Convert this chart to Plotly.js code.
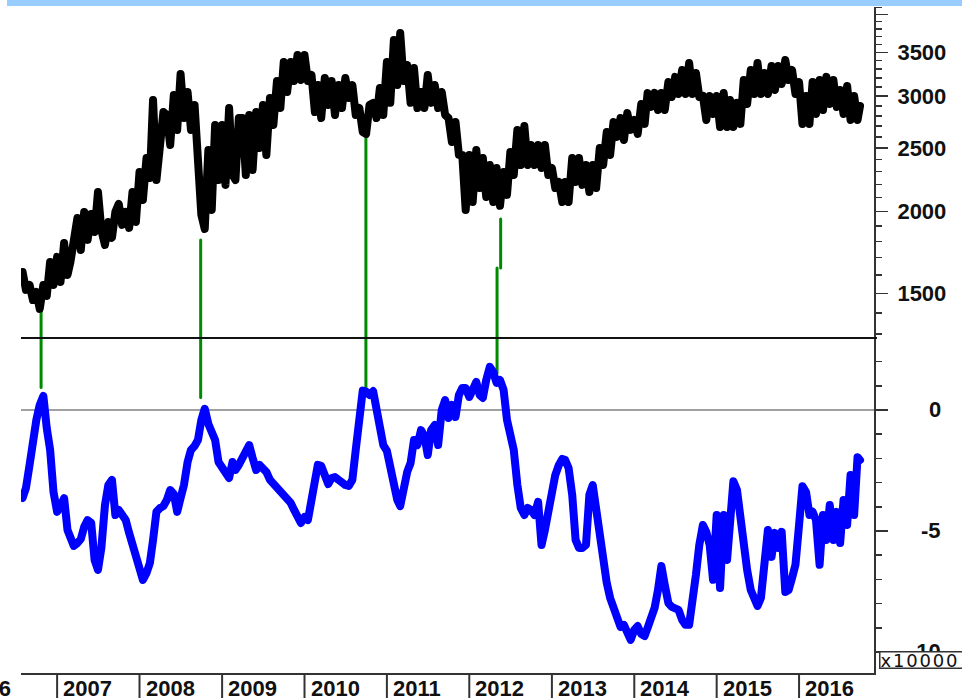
<!DOCTYPE html>
<html><head><meta charset="utf-8">
<script src="https://cdn.plot.ly/plotly-3.0.1.min.js"></script>
<style>
html,body{margin:0;padding:0;background:#fff;}
#chart{width:962px;height:698px;}
#chart .js-line{stroke-linejoin:round;stroke-linecap:round;}
</style>
</head><body><div id="chart"></div>
<script>
// ---- data (semi-monthly samples) ----
const black2006 = [1617,1518,1545,1465,1507,1420,1545,1486,1675,1545];
const black2007 = [1705,1561,1791,1600,1675,1810,1955,1747,1997,1810,1983,1861,2142,1874,1778,1928,1823,1997,2054,1908,1997,1888,2142,1928];
const black2008 = [2298,2083,2414,2250,2960,2234,2483,2837,2808,2527,3012,2664,3244,2778,3044,2664,2908,2440,1976,1881,2483,2011,2711,2234];
const black2009 = [2711,2196,2877,2274,2234,2778,2778,2274,2808,2314,2837,2500,2908,2440,2981,2711,3164,2877,3383,3044,3383,3164,3467,3175];
const black2010 = [3467,3164,3232,2837,3120,2778,3198,2908,3164,2808,3120,2877,3198,2981,3120,2808,2877,2645,2627,2908,2930,2778,3088,2808];
const black2011 = [3383,2930,3655,3120,3745,3164,3347,2930,3312,2877,3044,2877,3232,2930,3120,2877,3044,2808,2778,2554,2740,2440,2440,2011];
const black2012 = [2440,2068,2483,2172,2414,2105,2355,2068,2330,2040,2298,2120,2466,2274,2664,2355,2701,2355,2527,2355,2527,2330,2527,2274];
const black2013 = [2330,2172,2219,2068,2219,2068,2414,2219,2414,2196,2355,2142,2355,2172,2500,2355,2645,2440,2740,2599,2778,2572,2827,2664];
const black2014 = [2759,2627,2919,2721,3034,2888,3034,2857,3034,2857,3153,2991,3210,3023,3289,3023,3370,3023,3255,2991,3002,2759,3002,2818];
const black2015 = [3002,2692,3034,2692,2960,2692,2930,2721,3175,2919,3289,3023,3370,3023,3255,3023,3335,3066,3335,3131,3407,3175,3289,3023];
const black2016 = [3153,2721,3002,2721,3153,2818,3175,2857,3210,2919,3175,2888,3066,2818,3109,2759,3002,2759,2898];

const blue2006 = [-3.64,-3.22,-2.27,-1.12,-0.41,0.21,0.58,-0.74,-1.65,-3.39];
const blue2007 = [-4.21,-3.97,-3.64,-4.96,-5.37,-5.62,-5.50,-5.33,-4.83,-4.55,-4.67,-6.20,-6.61,-5.70,-3.93,-3.10,-2.89,-4.34,-4.13,-4.34,-4.55,-5.08,-5.58,-6.20];
const blue2008 = [-6.61,-7.02,-6.74,-6.32,-5.37,-4.21,-4.05,-3.97,-3.72,-3.31,-3.47,-4.21,-3.64,-3.10,-2.15,-1.65,-1.49,-1.24,-0.41,0.05,-0.58,-0.91,-1.24,-2.15];
const blue2009 = [-2.36,-2.56,-2.81,-2.15,-2.48,-2.27,-1.98,-1.57,-1.45,-1.98,-2.48,-2.27,-2.40,-2.56,-2.89,-3.06,-3.18,-3.39,-3.51,-3.64,-3.84,-4.13,-4.34,-4.67];
const blue2010 = [-4.42,-4.55,-3.72,-2.64,-2.27,-2.31,-2.77,-3.06,-2.81,-2.77,-2.89,-3.02,-3.10,-3.14,-2.89,-1.65,0.00,0.80,0.76,0.62,0.78,0.00,-0.91,-1.45];
const blue2011 = [-1.69,-2.40,-3.14,-3.72,-3.97,-3.22,-2.56,-2.19,-1.24,-1.45,-0.83,-1.07,-1.86,-0.83,-0.62,-1.45,0.00,0.41,-0.33,0.21,-0.29,0.62,0.91,0.91];
const blue2012 = [0.54,0.83,1.16,0.62,0.50,1.24,1.78,1.57,1.12,1.24,0.83,-0.41,-1.03,-1.65,-3.10,-4.05,-4.34,-4.05,-4.13,-4.34,-3.80,-5.58,-4.96,-4.13];
const blue2013 = [-3.31,-2.69,-2.27,-2.02,-2.07,-2.40,-3.51,-5.37,-5.70,-5.70,-5.58,-3.51,-3.10,-4.13,-5.58,-6.61,-7.15,-7.77,-8.18,-8.59,-8.97,-8.88,-9.17,-9.50];
const blue2014 = [-9.09,-8.93,-9.26,-9.34,-9.01,-8.59,-8.18,-7.44,-6.45,-7.23,-7.98,-8.14,-8.18,-8.26,-8.68,-8.88,-8.88,-8.06,-6.82,-5.58,-4.75,-5.04,-5.58,-7.02];
const blue2015 = [-4.34,-7.36,-4.34,-6.20,-4.34,-2.95,-3.31,-4.55,-5.58,-6.61,-7.44,-7.85,-8.10,-7.77,-6.20,-4.96,-6.07,-5.08,-5.70,-5.04,-7.52,-7.44,-6.94,-6.40];
const blue2016 = [-4.75,-3.15,-3.39,-4.34,-4.21,-4.55,-6.40,-4.34,-5.37,-3.93,-5.37,-4.21,-5.50,-3.72,-4.75,-2.69,-4.34,-1.95,-2.07];

const years = ['2006','2007','2008','2009','2010','2011','2012','2013','2014','2015','2016'];
const upperTicks = [1500, 2000, 2500, 3000, 3500, 4000];
const upperTickText = ['1500','2000','2500','3000','3500',''];
const upperMinor = [1300,1400,1600,1700,1800,1900,2100,2200,2300,2400,2600,2700,2800,2900,3100,3200,3300,3400,3600,3700,3800,3900,4100];
const lowerTicks = [-10, -5, 0];
const lowerTickText = ['-10', '-5', '0'];
const lowerMinor = [-9,-8,-7,-6,-4,-3,-2,-1,1,2];
const scaleNote = 'x10000';

// green marker lines: black trough -> blue peak
const greenUpperDates = ['2006-10-22','2008-09-28','2010-09-30','2012-05-19'];
const greenUpperValues = [1450, 1810, 2590, 1948];
const greenJogValues = [null, null, null, 1640];
const greenLowerDates = ['2006-10-22','2008-09-28','2010-09-30','2012-05-03'];
const greenLowerValues = [0.93, 0.52, 0.87, 1.53];

// semi-monthly dates (1st and 16th) Aug 2006 .. Sep 2016, last reading 27 Sep 2016
const dates = [];
for (let y = 2006; y <= 2016; y++) {
  for (let m = 1; m <= 12; m++) {
    if (y === 2006 && m < 8) continue;
    if (y === 2016 && m > 9) continue;
    const mm = String(m).padStart(2, '0');
    dates.push(y + '-' + mm + '-01', y + '-' + mm + '-16');
  }
}
dates.push('2016-09-27');

const blackValues = [].concat(black2006, black2007, black2008, black2009, black2010, black2011, black2012, black2013, black2014, black2015, black2016);
const blueValues = [].concat(blue2006, blue2007, blue2008, blue2009, blue2010, blue2011, blue2012, blue2013, blue2014, blue2015, blue2016);

// ---- layout ----
const W = 962, H = 698;
const M = {l: 21, r: 88, t: 7, b: 25};
const plotW = W - M.l - M.r, plotH = H - M.t - M.b;
const xRange = ['2006-07-25', '2016-11-28'];
const upperMin = 1282, upperMax = 4104;
const upperRange = [Math.log10(upperMin), Math.log10(upperMax)];
const lowerRange = [-10.87, 2.975];
const split = 0.503;

const t0 = Date.parse(xRange[0]), t1 = Date.parse(xRange[1]);
const paperX = d => (Date.parse(d) - t0) / (t1 - t0);

const labelFont = {family: 'Liberation Sans, Arial, sans-serif', size: 22, weight: 'bold', color: '#111'};
const axisCol = '#333';
const green = {color: '#008a00', width: 3};

// green segments as line traces (drawn first, beneath the series)
const gUx = [], gUy = [], gLx = [], gLy = [];
greenUpperDates.forEach((d, i) => {
  if (greenJogValues[i] !== null) {
    gUx.push(d, d, null, greenLowerDates[i], greenLowerDates[i], null);
    gUy.push(greenUpperValues[i], greenJogValues[i], null, greenJogValues[i], upperMin, null);
  } else {
    gUx.push(d, d, null);
    gUy.push(greenUpperValues[i], upperMin, null);
  }
  gLx.push(greenLowerDates[i], greenLowerDates[i], null);
  gLy.push(lowerRange[1], greenLowerValues[i], null);
});

const traces = [
  {x: gUx, y: gUy, xaxis: 'x', yaxis: 'y', type: 'scatter', mode: 'lines', line: green, connectgaps: false, hoverinfo: 'skip'},
  {x: gLx, y: gLy, xaxis: 'x', yaxis: 'y2', type: 'scatter', mode: 'lines', line: green, connectgaps: false, hoverinfo: 'skip'},
  {x: dates, y: blackValues, xaxis: 'x', yaxis: 'y', type: 'scatter', mode: 'lines',
   line: {color: '#000', width: 8}, hoverinfo: 'skip'},
  {x: dates, y: blueValues, xaxis: 'x', yaxis: 'y2', type: 'scatter', mode: 'lines',
   line: {color: '#0000ff', width: 8}, hoverinfo: 'skip'}
];

const shapes = [];
// light-blue strip across the top
shapes.push({type: 'rect', xref: 'paper', yref: 'paper', x0: -14 / plotW, x1: 1 + (M.r + 5) / plotW,
  y0: 1 + 1 / plotH, y1: 1 + (M.t + 3) / plotH, fillcolor: '#99ccff', line: {width: 0}, layer: 'above'});
// panel separator
shapes.push({type: 'line', xref: 'paper', yref: 'paper', x0: 0, x1: 1 + 3 / plotW, y0: split, y1: split,
  line: {color: '#111', width: 2}});
// year separators in label strip
years.forEach(y => {
  const xp = paperX(y + '-01-01');
  if (xp < 0) return;
  shapes.push({type: 'line', xref: 'paper', yref: 'paper', x0: xp, x1: xp, y0: 0, y1: -(M.b + 5) / plotH,
    line: {color: axisCol, width: 2}});
});

const annotations = [];
years.forEach(y => {
  const xp = paperX(y + '-01-01');
  if (xp < 0) {
    annotations.push({xref: 'paper', yref: 'paper', x: 0, xshift: -8, xanchor: 'right',
      y: -15 / plotH, yanchor: 'middle', text: y, showarrow: false, font: labelFont});
  } else {
    annotations.push({xref: 'paper', yref: 'paper', x: xp, xshift: 4, xanchor: 'left',
      y: -15 / plotH, yanchor: 'middle', text: y, showarrow: false, font: labelFont});
  }
});
lowerTicks.forEach((v, i) => {
  annotations.push({xref: 'paper', yref: 'y2', x: 1, xshift: 69, xanchor: 'right', y: v, yanchor: 'middle',
    text: lowerTickText[i], showarrow: false, font: labelFont});
});
const noteIndex = annotations.length;
annotations.push({xref: 'paper', yref: 'paper', x: 1, xshift: 5, xanchor: 'left', y: 13.5 / plotH, yanchor: 'middle',
  text: scaleNote, showarrow: false, bgcolor: '#fff', bordercolor: axisCol, borderwidth: 1.5, borderpad: 0,
  width: 100, height: 15, align: 'left',
  font: {family: 'DejaVu Sans, sans-serif', size: 18, color: '#111'}});

const st = document.createElement('style');
st.textContent = '#chart .annotation[data-index="' + noteIndex + '"] .annotation-text{letter-spacing:1.8px;}';
document.head.appendChild(st);

const layout = {
  width: W, height: H, margin: M, autosize: false,
  paper_bgcolor: '#fff', plot_bgcolor: '#fff', showlegend: false,
  xaxis: {type: 'date', range: xRange, anchor: 'y2', showgrid: false, zeroline: false,
    showticklabels: false, ticks: '', showline: true, linecolor: axisCol, linewidth: 2, fixedrange: true},
  yaxis: {type: 'log', domain: [split, 1], range: upperRange, side: 'right', anchor: 'x',
    showgrid: false, zeroline: false, showline: true, linecolor: axisCol, linewidth: 2,
    ticks: 'outside', ticklen: 12, tickwidth: 1.5, tickcolor: axisCol, ticklabelstandoff: 5,
    tickmode: 'array', tickvals: upperTicks, ticktext: upperTickText, tickfont: labelFont,
    minor: {tickmode: 'array', tickvals: upperMinor, ticks: 'outside', ticklen: 6, tickwidth: 1.5, tickcolor: axisCol, showgrid: false}},
  yaxis2: {domain: [0, split], range: lowerRange, side: 'right', anchor: 'x',
    showgrid: false, zeroline: true, zerolinecolor: '#a0a0a0', zerolinewidth: 2,
    showline: true, linecolor: axisCol, linewidth: 2,
    ticks: 'outside', ticklen: 12, tickwidth: 1.5, tickcolor: axisCol,
    tickmode: 'array', tickvals: lowerTicks, showticklabels: false,
    minor: {tickmode: 'array', tickvals: lowerMinor, ticks: 'outside', ticklen: 6, tickwidth: 1.5, tickcolor: axisCol, showgrid: false}},
  shapes: shapes,
  annotations: annotations
};

Plotly.newPlot('chart', traces, layout, {staticPlot: true, displayModeBar: false});
</script></body></html>
